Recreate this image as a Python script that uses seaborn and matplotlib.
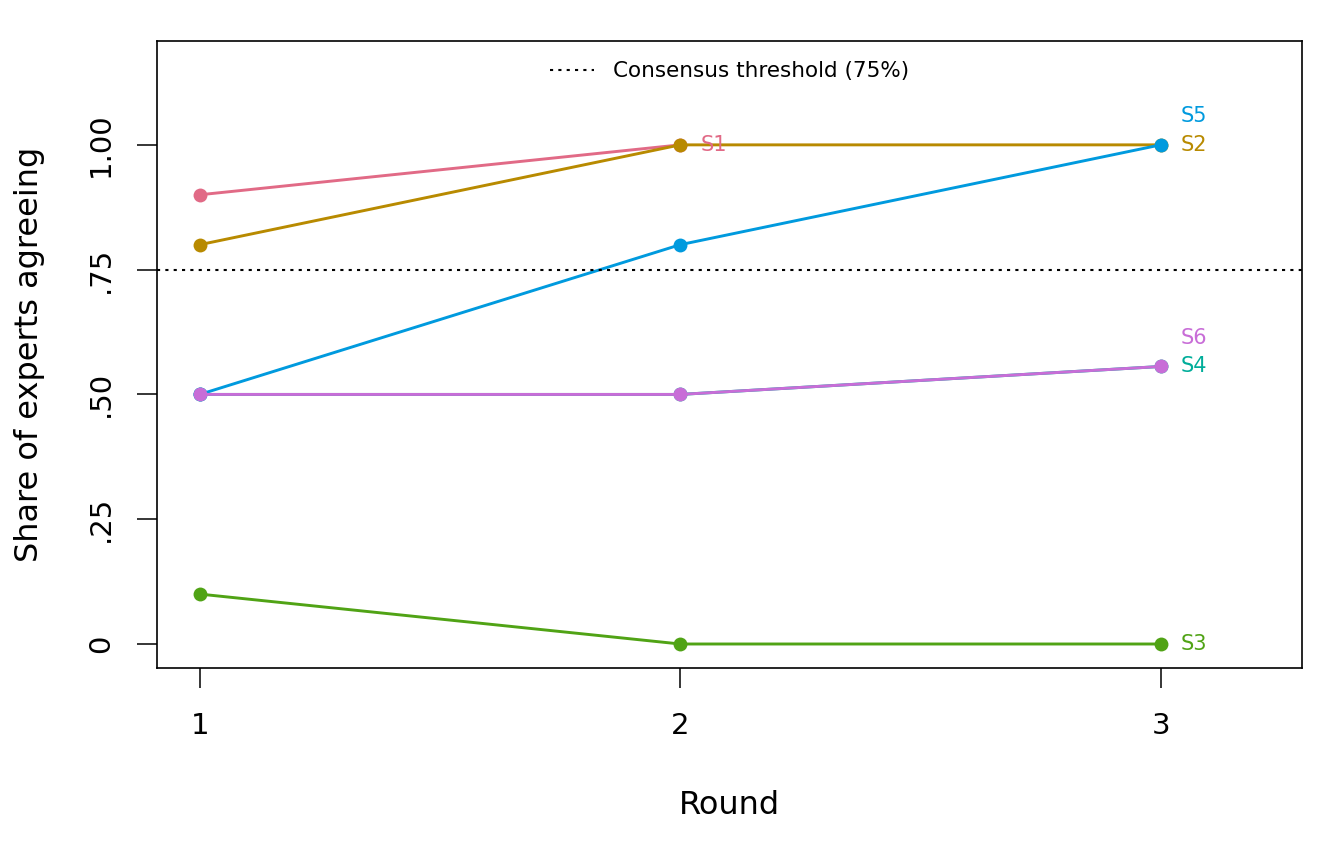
import matplotlib
matplotlib.use("Agg")
import matplotlib.pyplot as plt
import pandas as pd
import seaborn as sns
from matplotlib.lines import Line2D

# data
rounds = [1, 2, 3]
statements = ["S1", "S2", "S3", "S4", "S5", "S6"]
s1 = [0.90, 1.00]            # dropped after round 2
s2 = [0.80, 1.00, 1.00]
s3 = [0.10, 0.00, 0.00]
s4 = [0.50, 0.50, 0.556]
s5 = [0.50, 0.80, 1.00]
s6 = [0.50, 0.50, 0.556]
threshold = 0.75
colors = ["#E16A86", "#B88A00", "#50A315", "#00AD9A", "#009ADE", "#C86DD7"]

series = [s1, s2, s3, s4, s5, s6]
rows = []
for name, vals in zip(statements, series):
    for r, v in zip(rounds, vals):
        rows.append({"round": r, "share": v, "statement": name})
df = pd.DataFrame(rows)

sns.set_style("white")
plt.rcParams["font.family"] = ["DejaVu Sans"]
plt.rcParams["text.color"] = "black"
plt.rcParams["axes.labelcolor"] = "black"

fig = plt.figure(figsize=(13.44, 8.64), dpi=100)
ax = fig.add_axes([0.1168, 0.2269, 0.8519, 0.7256])

sns.lineplot(data=df, x="round", y="share", hue="statement", palette=colors,
             marker="o", markersize=10, markeredgewidth=0, linewidth=2.1,
             legend=False, ax=ax)

dots = (0, (1.5, 2.5))
ax.axhline(threshold, color="black", linestyle=dots, linewidth=1.5)

# end labels, nudged apart where they overlap
nudge = {"S5": 0.058, "S6": 0.058}
for name, vals, c in zip(statements, series, colors):
    x = rounds[len(vals) - 1]
    ax.text(x + 0.042, vals[-1] + nudge.get(name, 0), name, color=c,
            fontsize=15, va="center", ha="left")

ax.set_xlim(0.911, 3.294)
ax.set_ylim(-0.048, 1.208)
ax.set_xticks(rounds)
ax.set_xticklabels(["1", "2", "3"])
ax.set_yticks([0, 0.25, 0.5, 0.75, 1.0])
ax.set_yticklabels(["0", ".25", ".50", ".75", "1.00"], rotation=90, va="center")
ax.tick_params(axis="both", direction="out", length=14.4, width=1.1, labelsize=21,
               left=True, bottom=True, color="black", labelcolor="black")
ax.tick_params(axis="x", pad=17)
ax.tick_params(axis="y", pad=16)
for sp in ax.spines.values():
    sp.set_color("black")
    sp.set_linewidth(1.2)

ax.set_xlabel("Round", fontsize=23, labelpad=36)
ax.set_ylabel("Share of experts agreeing", fontsize=23, labelpad=30)

handle = Line2D([0], [0], color="black", linestyle=dots, linewidth=1.5)
ax.legend([handle], ["Consensus threshold (75%)"], loc="upper center",
          frameon=False, fontsize=15.5, handlelength=2.05, handletextpad=0.9,
          borderaxespad=0.55)

fig.savefig("out.png", dpi=100)
